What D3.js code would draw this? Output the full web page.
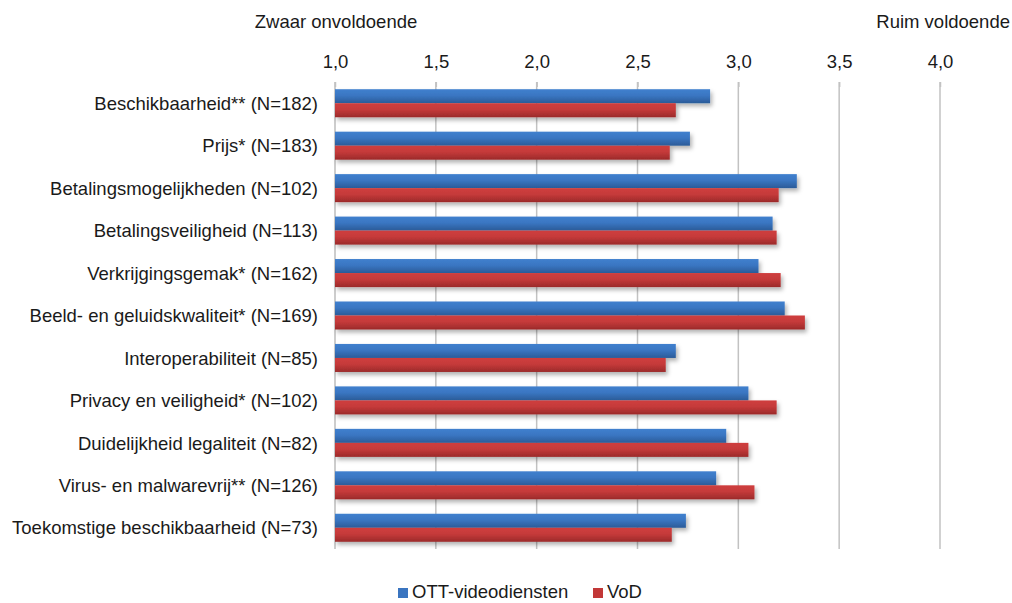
<!DOCTYPE html>
<html><head><meta charset="utf-8">
<script src="https://cdn.jsdelivr.net/npm/d3@7"></script>
<style>body{margin:0;background:#fff;} svg{display:block;font-family:"Liberation Sans",Arial,sans-serif;}</style>
</head><body><svg id="c" width="1012" height="603"></svg>
<script>
const categories = ["Beschikbaarheid** (N=182)","Prijs* (N=183)","Betalingsmogelijkheden (N=102)","Betalingsveiligheid (N=113)","Verkrijgingsgemak* (N=162)","Beeld- en geluidskwaliteit* (N=169)","Interoperabiliteit (N=85)","Privacy en veiligheid* (N=102)","Duidelijkheid legaliteit (N=82)","Virus- en malwarevrij** (N=126)","Toekomstige beschikbaarheid (N=73)"];
const seriesNames = ["OTT-videodiensten","VoD"];
const ott = [2.86,2.76,3.29,3.17,3.10,3.23,2.69,3.05,2.94,2.89,2.74];
const vod = [2.69,2.66,3.20,3.19,3.21,3.33,2.64,3.19,3.05,3.08,2.67];
const ticks = [1.0,1.5,2.0,2.5,3.0,3.5,4.0];
const tickLabels = ["1,0","1,5","2,0","2,5","3,0","3,5","4,0"];

(function(){
const svg = d3.select("#c");
const pL = 335, pR = 940, pT = 82, pB = 549;
const FS = "18.5px";
const x = d3.scaleLinear().domain([1,4]).range([pL,pR]);
const y = d3.scaleBand().domain(categories).range([pT,pB]).paddingInner(0.34).paddingOuter(0.17);
const ys = d3.scaleBand().domain(seriesNames).range([0,y.bandwidth()]);

const defs = svg.append("defs");
function grad(id, c1, c2, c3){
  const g = defs.append("linearGradient").attr("id",id).attr("x1",0).attr("y1",0).attr("x2",0).attr("y2",1);
  g.append("stop").attr("offset","0%").attr("stop-color",c1);
  g.append("stop").attr("offset","45%").attr("stop-color",c2);
  g.append("stop").attr("offset","100%").attr("stop-color",c3);
}
grad("gb","#4080ce","#3a76c2","#2b5b98");
grad("gr","#cf3e3e","#c53a3a","#9b2a2a");
const f = defs.append("filter").attr("id","sh").attr("x","-5%").attr("y","-30%").attr("width","115%").attr("height","190%");
f.append("feDropShadow").attr("dx",2).attr("dy",3).attr("stdDeviation",2).attr("flood-color","#000").attr("flood-opacity",0.3);

svg.append("g").selectAll("line").data(ticks.slice(1)).join("line")
  .attr("x1",d=>x(d)).attr("x2",d=>x(d)).attr("y1",pT).attr("y2",pB)
  .attr("stroke","#c2c2c2").attr("stroke-width",1.5);
svg.append("line").attr("x1",pL).attr("x2",pL).attr("y1",pT).attr("y2",pB).attr("stroke","#bdbdbd").attr("stroke-width",1.5);

const ax = d3.axisTop(x).tickValues(ticks).tickFormat((d,i)=>tickLabels[i]).tickSize(5).tickPadding(14);
const axg = svg.append("g").attr("transform",`translate(0,${pT+5})`).call(ax);
axg.select(".domain").remove();
axg.selectAll(".tick line").attr("stroke","#c2c2c2").attr("stroke-width",1.5);
axg.selectAll(".tick text").attr("font-size",FS).attr("fill","#1a1a1a").attr("font-family","'Liberation Sans',Arial,sans-serif");

const colors = {"OTT-videodiensten":"url(#gb)","VoD":"url(#gr)"};
const data = categories.flatMap((c,i)=>[{c,s:seriesNames[0],v:ott[i]},{c,s:seriesNames[1],v:vod[i]}]);
svg.append("g").attr("filter","url(#sh)").selectAll("rect").data(data).join("rect")
  .attr("x",x(1)).attr("y",d=>y(d.c)+ys(d.s)).attr("height",ys.bandwidth())
  .attr("width",d=>x(d.v)-x(1)).attr("fill",d=>colors[d.s]);

svg.append("g").selectAll("text").data(categories).join("text")
  .attr("x",318).attr("y",d=>y(d)+y.bandwidth()/2).attr("dy","0.36em")
  .attr("text-anchor","end").attr("font-size",FS).attr("fill","#1a1a1a").text(d=>d);

svg.append("text").attr("x",336).attr("y",28).attr("text-anchor","middle").attr("font-size",FS).attr("fill","#1a1a1a").text("Zwaar onvoldoende");
svg.append("text").attr("x",1010).attr("y",28).attr("text-anchor","end").attr("font-size",FS).attr("fill","#1a1a1a").text("Ruim voldoende");

const lg = svg.append("g");
const lx = [398,593];
seriesNames.forEach((s,i)=>{
  lg.append("rect").attr("x",lx[i]).attr("y",588).attr("width",10).attr("height",10).attr("fill",i===0?"#3a75c0":"#c23838");
  lg.append("text").attr("x",lx[i]+14).attr("y",598).attr("font-size",FS).attr("fill","#1a1a1a").text(s);
});
})();
</script></body></html>
